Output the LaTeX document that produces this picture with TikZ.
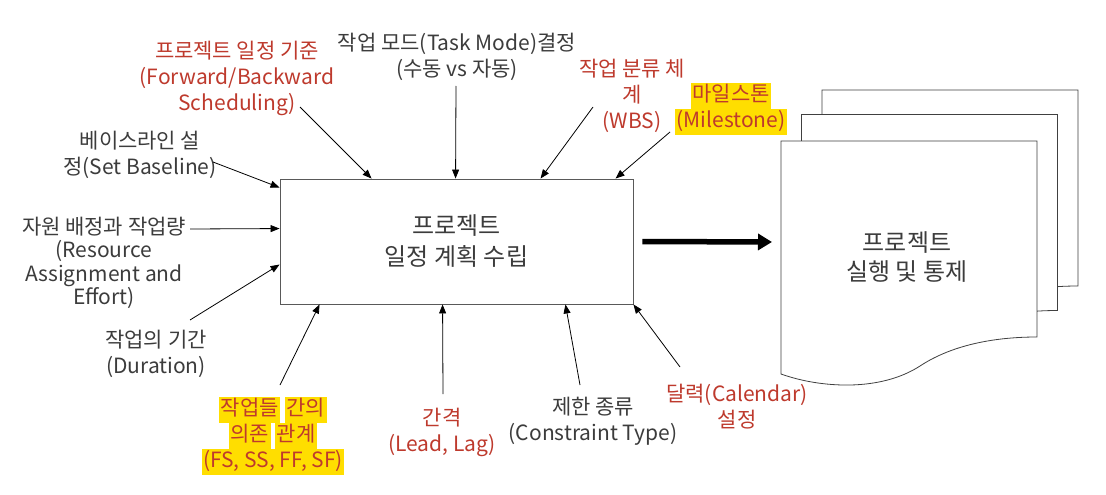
\documentclass[tikz,border=0pt]{standalone}
\usepackage{fontspec}
\setmainfont{Noto Sans CJK KR}
\usetikzlibrary{arrows.meta}
\definecolor{txt}{RGB}{60,60,60}
\definecolor{kred}{RGB}{190,58,45}
\definecolor{hly}{RGB}{255,222,0}
\newcommand\hl[1]{{\setlength{\fboxsep}{0pt}\colorbox{hly}{\hspace{1.5pt}\strut#1\hspace{1.5pt}}}}
\newcommand\docpath{(781,141) -- (1037,141) -- (1037,337) .. controls (1000,337) and (955,343) .. (920,366) .. controls (880,392) and (820,388) .. (781,374) -- cycle}
\begin{document}
\begin{tikzpicture}[x=1pt,y=-1pt,
  lbl/.style={align=center, inner sep=0pt, text=txt, font=\fontsize{21}{26}\selectfont},
  rlbl/.style={lbl, text=kred},
  arr/.style={draw=black, line width=0.8pt, -{Triangle[length=9pt,width=7pt]}},
  fat/.style={draw=black, line width=5.5pt, -{Triangle[length=14pt,width=16pt]}},
  docst/.style={draw=black!75, line width=0.8pt, fill=white},
  mainbox/.style={draw=black!65, line width=0.9pt, minimum width=353pt, minimum height=125pt, inner sep=0pt, align=center, text=txt, font=\fontsize{24}{31}\selectfont},
  doctext/.style={align=center, inner sep=0pt, text=txt, font=\fontsize{24}{29}\selectfont}]
\useasboundingbox (0,0) rectangle (1106,495);
\fill[white] (0,0) rectangle (1106,495);

% documents (back to front)
\draw[docst, shift={(41,-51)}] \docpath;
\draw[docst, shift={(20.5,-26.5)}] \docpath;
\draw[docst] \docpath;
\node[doctext] (doc) at (907,257) {프로젝트\\실행 및 통제};

% main box
\node[mainbox] (box) at (456.5,241.5) {프로젝트\\일정 계획 수립};

% labels
\node[rlbl] (l1) at (237,78) {프로젝트 일정 기준\\(Forward/Backward\\Scheduling)};
\node[lbl] (l2) at (457,57) {작업 모드(Task Mode)결정\\(수동 vs 자동)};
\node[rlbl] (l3) at (632,96) {작업 분류 체\\계\\(WBS)};
\node[rlbl] (l4) at (731,109) {\hl{마일스톤}\\\hl{(Milestone)}};
\node[lbl] (l5) at (140,155) {베이스라인 설\\정(Set Baseline)};
\node[lbl, font=\fontsize{21}{23.5}\selectfont] (l6) at (104,263) {자원 배정과 작업량\\(Resource\\Assignment and\\Effort)};
\node[lbl] (l7) at (156,354) {작업의 기간\\(Duration)};
\node[rlbl] (l8) at (273,436) {\hl{작업들} \hl{간의}\\\hl{의존} \hl{관계}\\\hl{(FS, SS, FF, SF)}};
\node[rlbl] (l9) at (442,432) {간격\\(Lead, Lag)};
\node[lbl] (l10) at (593,421) {제한 종류\\(Constraint Type)};
\node[rlbl] (l11) at (737,407) {달력(Calendar)\\설정};

% arrow start points
\coordinate (s1) at (300,107);
\coordinate (s2) at (456,86);
\coordinate (s3) at (593,107);
\coordinate (s4) at (670,132);
\coordinate (s5) at (213,162);
\coordinate (s6) at (190,229);
\coordinate (s7) at (190,320);
\coordinate (s8) at (280,385);
\coordinate (s9) at (443,394);
\coordinate (s10) at (580,385);
\coordinate (s11) at (680,367);
\coordinate (docin) at (772,242);

% arrows
\draw[arr] (s1) -- ([xshift=92pt]box.north west);
\draw[arr] (s2) -- ([xshift=176pt]box.north west);
\draw[arr] (s3) -- ([xshift=261pt]box.north west);
\draw[arr] (s4) -- ([xshift=336pt]box.north west);
\draw[arr] (s5) -- ([yshift=-9pt]box.north west);
\draw[arr] (s6) -- ([yshift=-50pt]box.north west);
\draw[arr] (s7) -- ([yshift=-86pt]box.north west);
\draw[arr] (s8) -- ([xshift=40pt]box.south west);
\draw[arr] (s9) -- ([xshift=163pt]box.south west);
\draw[arr] (s10) -- ([xshift=-68pt]box.south east);
\draw[arr] (s11) -- (box.south east);
\draw[fat] ([xshift=9pt]box.east) -- (docin);
\end{tikzpicture}
\end{document}
